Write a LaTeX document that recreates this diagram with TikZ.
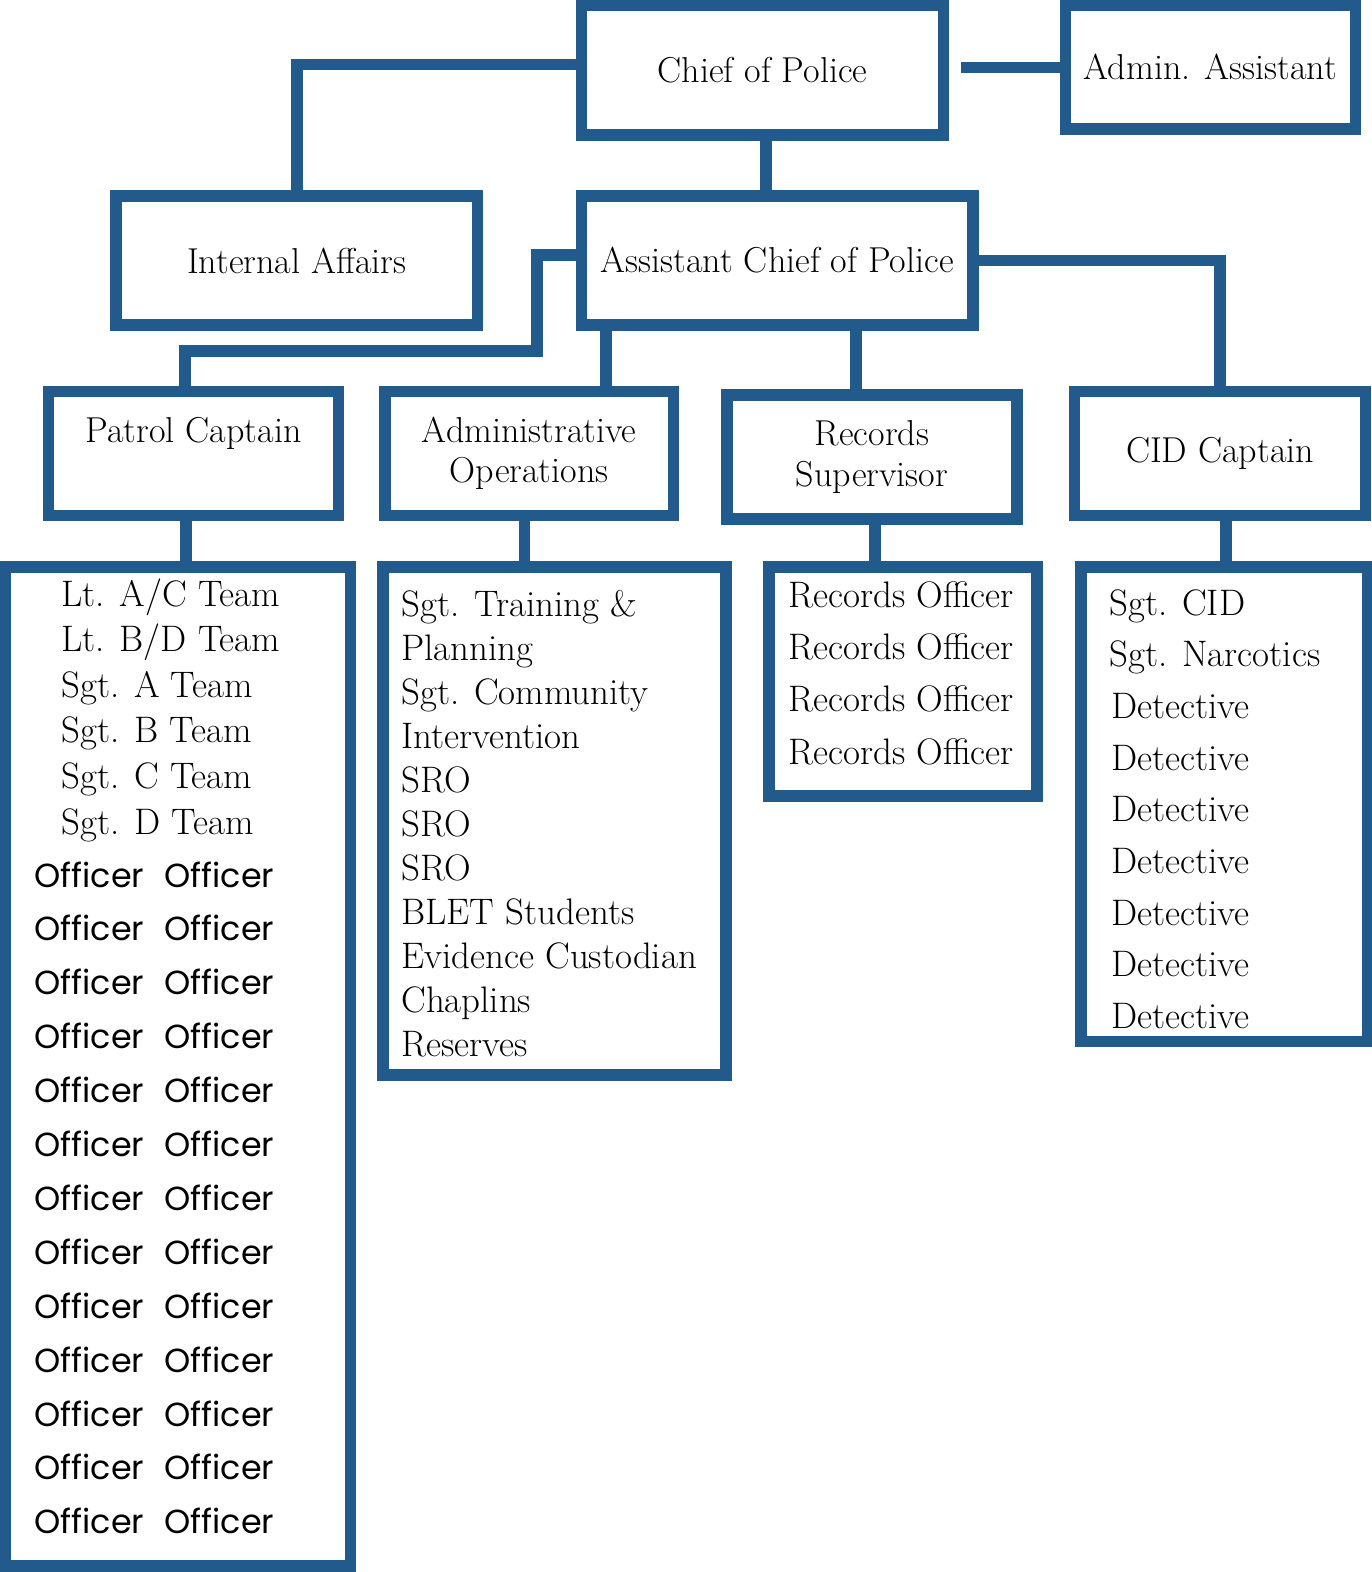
\documentclass[tikz,border=0pt]{standalone}
\usepackage{fontspec}
\usepackage{tikz}
\newfontfamily\officerfont{Poppins}
\definecolor{policeblue}{HTML}{235A8C}

\begin{document}
\begin{tikzpicture}[x=0.02cm, y=-0.02cm]
    \tikzstyle{rankbox} = [rectangle, draw=policeblue, line width=0.23cm, inner sep=0pt, align=center, font=\fontsize{20.5}{23}\selectfont]
    \tikzstyle{listbox} = [rectangle, draw=policeblue, line width=0.23cm, inner sep=0pt]
    \tikzstyle{link} = [policeblue, line width=0.23cm]
    \tikzstyle{item} = [anchor=base west, inner sep=0pt, font=\fontsize{21}{24}\selectfont]
    \tikzstyle{officer} = [anchor=base west, inner sep=0pt, font=\officerfont\fontsize{19}{22}\selectfont]

    \useasboundingbox (0,0) rectangle (1372,1572);

    % Command staff
    \node[rankbox, minimum width=7.24cm, minimum height=2.59cm] (chief) at (762.5,70.25) {Chief of Police};
    \node[rankbox, minimum width=5.8cm, minimum height=2.47cm] (asst) at (1210.5,67.25) {Admin. Assistant};
    \node[rankbox, minimum width=7.23cm, minimum height=2.58cm] (ia) at (296.75,260.5) {Internal Affairs};
    \node[rankbox, minimum width=7.83cm, minimum height=2.58cm] (acp) at (777.25,260.5) {Assistant Chief of Police};

    % Divisions
    \node[rankbox, minimum width=5.8cm, minimum height=2.48cm] (patrol) at (193.5,453.5) {Patrol Captain\\\phantom{Operations}};
    \node[rankbox, minimum width=5.77cm, minimum height=2.48cm] (adminops) at (529.25,453.5) {Administrative\\Operations};
    \node[rankbox, minimum width=5.8cm, minimum height=2.48cm] (records) at (872,457) {Records\\Supervisor};
    \node[rankbox, minimum width=5.82cm, minimum height=2.48cm] (cid) at (1220,453.5) {CID Captain};

    % Staff lists
    \node[listbox, minimum width=6.91cm, minimum height=19.98cm] (patrollist) at (177.75,1066.5) {};
    \node[listbox, minimum width=6.86cm, minimum height=10.16cm] (adminlist) at (554.5,821) {};
    \node[listbox, minimum width=5.36cm, minimum height=4.58cm] (recordslist) at (903,681.5) {};
    \node[listbox, minimum width=5.74cm, minimum height=9.49cm] (cidlist) at (1224.5,804.25) {};

    % Bend points
    \coordinate (chiefdown) at ([xshift=0.07cm]chief.south);
    \coordinate (acpleft) at ([yshift=0.11cm]acp.west);
    \coordinate (patrolbend) at (537,351);
    \coordinate (patrolup) at ([xshift=-0.17cm]patrol.north);
    \coordinate (opsup) at ([xshift=1.54cm]adminops.north);
    \coordinate (recup) at ([xshift=-0.32cm]records.north);
    \coordinate (patroldown) at ([xshift=-0.15cm]patrol.south);
    \coordinate (opsdown) at ([xshift=-0.1cm]adminops.south);
    \coordinate (recdown) at ([xshift=0.06cm]records.south);
    \coordinate (ciddown) at ([xshift=0.12cm]cid.south);

    % Connectors
    \draw[link] ([yshift=0.12cm]chief.west) -| (ia.north);
    \draw[link, shorten >=0.23cm] (asst.west) -- (asst.west -| chief.east);
    \draw[link] (chiefdown) -- (chiefdown |- acp.north);
    \draw[link] (acpleft) -| (patrolbend) -| (patrolup);
    \draw[link] (opsup) -- (opsup |- acp.south);
    \draw[link] (recup) -- (recup |- acp.south);
    \draw[link] (acp.east) -| (cid.north);
    \draw[link] (patroldown) -- (patroldown |- patrollist.north);
    \draw[link] (opsdown) -- (opsdown |- adminlist.north);
    \draw[link] (recdown) -- (recdown |- recordslist.north);
    \draw[link] (ciddown) -- (ciddown |- cidlist.north);

    % Patrol
    \foreach \t [count=\i from 0] in {{Lt. A/C Team}, {Lt. B/D Team}, {Sgt. A Team}, {Sgt. B Team}, {Sgt. C Team}, {Sgt. D Team}}
        \node[item] (pat\i) at (61, 606+45.6*\i) {\t};
    \foreach \i in {0,...,12} {
        \node[officer] (offa\i) at (34, 887+53.9*\i) {Officer};
        \node[officer] (offb\i) at (164, 887+53.9*\i) {Officer};
    }

    % Administrative operations
    \foreach \t [count=\i from 0] in {Sgt. Training \&, Planning, Sgt. Community, Intervention, SRO, SRO, SRO, BLET Students, Evidence Custodian, Chaplins, Reserves}
        \node[item] (adm\i) at (401, 616+44*\i) {\t};

    % Records
    \foreach \i in {0,...,3}
        \node[item] (rec\i) at (788, 607.5+52.2*\i) {Records Officer};

    % CID
    \node[item] (cid0) at (1109, 615) {Sgt. CID};
    \node[item] (cid1) at (1109, 666) {Sgt. Narcotics};
    \foreach \i in {2,...,8}
        \node[item] (cid\i) at (1111, 615+51.7*\i) {Detective};
\end{tikzpicture}
\end{document}
